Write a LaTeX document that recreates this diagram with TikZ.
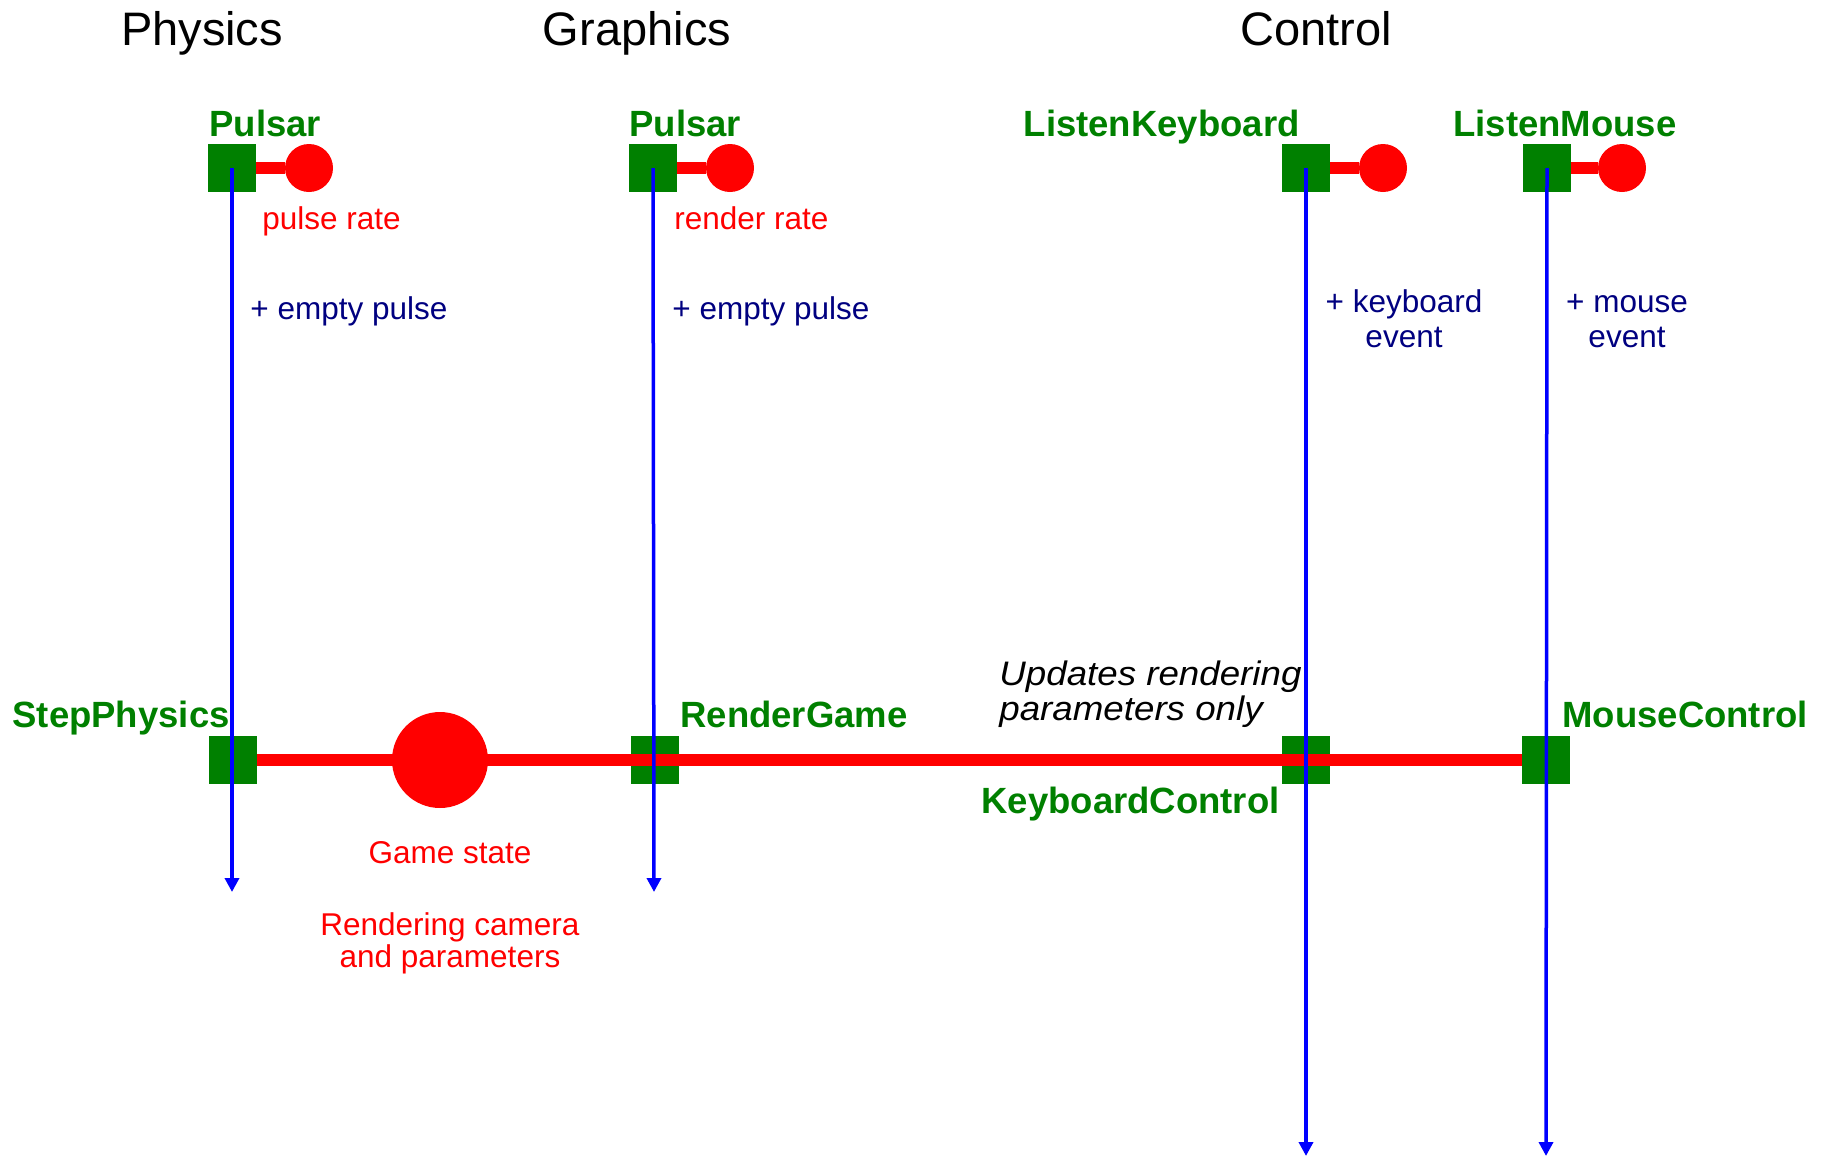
\documentclass[tikz,border=0pt]{standalone}
\usepackage{fontspec}
\setmainfont{Liberation Sans}
\newfontfamily\notefont{Liberation Sans}[FakeStretch=1.08]
\usetikzlibrary{positioning,arrows.meta,calc}
\definecolor{boxgreen}{RGB}{0,128,0}
\definecolor{eventnavy}{RGB}{0,0,128}

\begin{document}
\begin{tikzpicture}[x=0.5pt,y=-0.5pt,inner sep=0pt,
            colhead/.style={font=\fontsize{23.5pt}{28pt}\selectfont,anchor=base},
            pname/.style={font=\fontsize{18.25pt}{22pt}\selectfont\bfseries,text=boxgreen},
            pbox/.style={rectangle,fill=boxgreen,minimum size=24pt},
            portdot/.style={circle,fill=red,minimum size=24pt},
            statedot/.style={circle,fill=red,minimum size=48pt},
            ratelabel/.style={font=\fontsize{15.75pt}{16pt}\selectfont,text=red,align=center},
            eventlabel/.style={font=\fontsize{15.75pt}{17.5pt}\selectfont,text=eventnavy,align=center},
            wire/.style={draw=red,line width=6pt},
            flow/.style={draw=blue,line width=1.75pt,-{Triangle[width=7pt,length=7pt]}}]

            \useasboundingbox (0,0) rectangle (1831,1157);

            \node[colhead] (physhead) at (202,45) {Physics};
            \node[colhead] (gfxhead) at (637,45) {Graphics};
            \node[colhead] (ctrlhead) at (1316,45) {Control};

            \node[pbox] (physpulsar) at (232,168) {};
            \node[pbox] (gfxpulsar) at (653,168) {};
            \node[pbox] (keylisten) at (1306,168) {};
            \node[pbox] (mouselisten) at (1547,168) {};
            \node[portdot] (pulserate) at (309,168) {};
            \node[portdot] (renderrate) at (730,168) {};
            \node[portdot] (keyport) at (1383,168) {};
            \node[portdot] (mouseport) at (1622,168) {};
            \draw[wire] (physpulsar.east) -- (pulserate);
            \draw[wire] (gfxpulsar.east) -- (renderrate);
            \draw[wire] (keylisten.east) -- (keyport);
            \draw[wire] (mouselisten.east) -- (mouseport);

            \node[pname,anchor=base west] (physpulsarname) at (209,136) {Pulsar};
            \node[pname,anchor=base west] (gfxpulsarname) at (629,136) {Pulsar};
            \node[pname,anchor=base east] (keylistenname) at (1300,136) {ListenKeyboard};
            \node[pname,anchor=base west] (mouselistenname) at (1453,136) {ListenMouse};
            \node[ratelabel,anchor=base west] (pulseratetext) at (262,229) {pulse rate};
            \node[ratelabel,anchor=base west] (renderratetext) at (674,229) {render rate};
            \node[eventlabel,anchor=base west] (physevent) at (250,319) {+ empty pulse};
            \node[eventlabel,anchor=base west] (gfxevent) at (672,319) {+ empty pulse};
            \node[eventlabel,anchor=base] (keyevent) at (1404,347) {+ keyboard\\event};
            \node[eventlabel,anchor=base] (mouseevent) at (1627,347) {+ mouse\\event};

            \node[pbox] (stepphys) at (233,760) {};
            \node[pbox] (render) at (655,760) {};
            \node[pbox] (keyctrl) at (1306,760) {};
            \node[pbox] (mousectrl) at (1546,760) {};
            \node[statedot] (gamestate) at (440,760) {};
            \draw[wire] (stepphys.east) -- (mousectrl.west);

            \node[pname,anchor=base east] (stepphysname) at (230,727) {StepPhysics};
            \node[pname,anchor=base west] (rendername) at (680,727) {RenderGame};
            \node[pname,anchor=base east] (keyctrlname) at (1280,813) {KeyboardControl};
            \node[pname,anchor=base west] (mousectrlname) at (1562,727) {MouseControl};
            \node[font=\notefont\itshape\fontsize{17pt}{17.5pt}\selectfont,align=left,anchor=base west] (updatenote) at (999,720) {Updates rendering\\parameters only};
            \node[ratelabel,anchor=base] (gamestatetext) at (450,863) {Game state};
            \node[ratelabel,anchor=base] (cameratext) at (450,967) {Rendering camera\\and parameters};

            \coordinate (physend) at (232,892);
            \coordinate (gfxend) at (654,892);
            \coordinate (keyend) at (1306,1156);
            \coordinate (mouseend) at (1546,1156);
            \draw[flow] (physpulsar.center) -- (physend);
            \draw[flow] (gfxpulsar.center) -- (gfxend);
            \draw[flow] (keylisten.center) -- (keyend);
            \draw[flow] (mouselisten.center) -- (mouseend);
         \end{tikzpicture}
\end{document}
